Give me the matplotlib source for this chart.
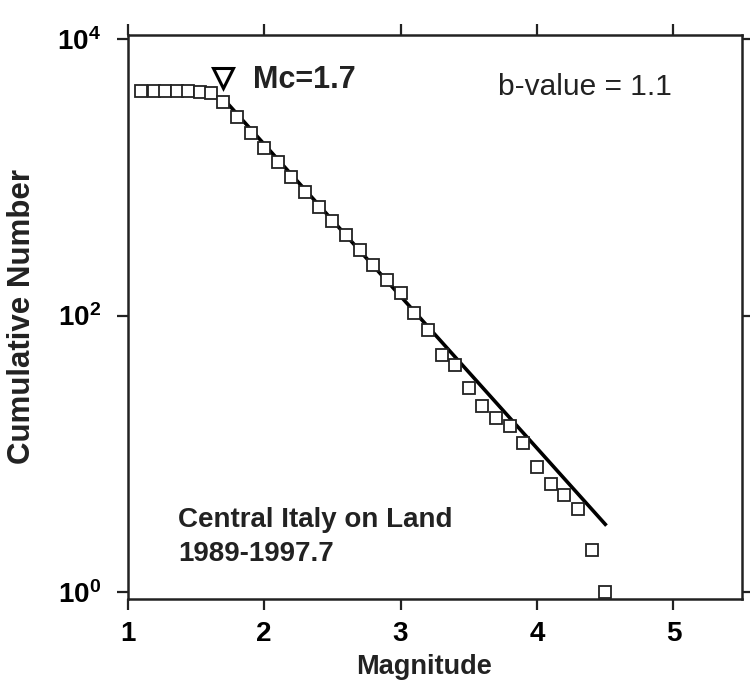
import matplotlib
matplotlib.use("Agg")
import matplotlib.pyplot as plt
import numpy as np

plt.rcParams['font.family'] = ['Liberation Sans', 'DejaVu Sans']
plt.rcParams['mathtext.fontset'] = 'custom'
plt.rcParams['mathtext.rm'] = 'Liberation Sans'
plt.rcParams['mathtext.bf'] = 'Liberation Sans:bold'

# Cumulative frequency-magnitude distribution
magnitudes = [1.1, 1.19, 1.27, 1.36, 1.44, 1.53, 1.61,
              1.7, 1.8, 1.9, 2.0, 2.1, 2.2, 2.3, 2.4, 2.5, 2.6, 2.7, 2.8, 2.9,
              3.0, 3.1, 3.2, 3.3, 3.4, 3.5, 3.6, 3.7, 3.8, 3.9, 4.0, 4.1, 4.2,
              4.3, 4.4, 4.5]
cumulative = [4200, 4200, 4200, 4200, 4200, 4150, 4050,
              3500, 2740, 2110, 1640, 1300, 1010, 786, 612, 483, 383, 298, 232, 181,
              145, 104, 79, 52, 44, 30, 22, 18, 16, 12, 8, 6, 5,
              4, 2, 1]

# Gutenberg-Richter fit: log10 N = a - b M
a_value = 5.44
b_value = 1.1
fit_range = [1.7, 4.5]
mc = 1.7
mc_marker_y = 5200

x_ticks = [1, 2, 3, 4, 5]
y_ticks = [1, 100, 10000]
y_tick_labels = [r'$\mathbf{10^{0}}$', r'$\mathbf{10^{2}}$', r'$\mathbf{10^{4}}$']

fig = plt.figure(figsize=(7.5, 6.92), dpi=100)
W, H = 750, 692
ax = fig.add_axes([127.7 / W, 1 - 599 / H, (741.7 - 127.7) / W, (599 - 34.5) / H])

ink = '#222222'

fit_m = np.array(fit_range)
ax.plot(fit_m, 10 ** (a_value - b_value * fit_m), color='black', lw=2.6, zorder=2)

ax.plot(magnitudes, cumulative, linestyle='none', marker='s', markersize=8.4,
        markerfacecolor='white', markeredgecolor=ink, markeredgewidth=1.3, zorder=3)

ax.plot([mc], [mc_marker_y], linestyle='none', marker='v', markersize=14,
        markerfacecolor='white', markeredgecolor='black', markeredgewidth=2.2, zorder=3)

ax.set_yscale('log')
ax.set_xlim(1, 5.5)
ax.set_ylim(0.89, 10800)

ax.set_xticks(x_ticks)
ax.set_xticklabels([str(t) for t in x_ticks], fontsize=20, fontweight='bold')
ax.set_yticks(y_ticks)
ax.set_yticklabels(y_tick_labels, fontsize=20)
ax.yaxis.set_minor_locator(matplotlib.ticker.NullLocator())
ax.xaxis.set_minor_locator(matplotlib.ticker.NullLocator())

ax.tick_params(axis='both', which='major', direction='out', length=8, width=1.6,
               color=ink, top=True, right=True, labeltop=False, labelright=False)
ax.tick_params(axis='x', pad=8)
ax.tick_params(axis='y', pad=11)

for s in ax.spines.values():
    s.set_linewidth(1.8)
    s.set_color(ink)

fig.text(424.5 / W, 1 - 667 / H, 'Magnitude', fontsize=19.5, fontweight='bold',
         ha='center', va='center', color=ink)
fig.text(22.5 / W, 1 - 316.5 / H, 'Cumulative Number', fontsize=22.5, fontweight='bold',
         rotation=90, ha='center', va='center', color=ink)

ax.text(1.919, 10 ** 3.646, 'Mc=1.7', fontsize=22, fontweight='bold', va='baseline',
        ha='left', color=ink)
ax.text(3.715, 10 ** 3.595, 'b-value = 1.1', fontsize=21.5, va='baseline', ha='left',
        color=ink)
ax.text(1.37, 10 ** 0.470, 'Central Italy on Land', fontsize=20, fontweight='bold',
        va='baseline', ha='left', color=ink)
ax.text(1.37, 10 ** 0.224, '1989-1997.7', fontsize=20, fontweight='bold',
        va='baseline', ha='left', color=ink)

fig.savefig('out.png', dpi=100, facecolor='white')
